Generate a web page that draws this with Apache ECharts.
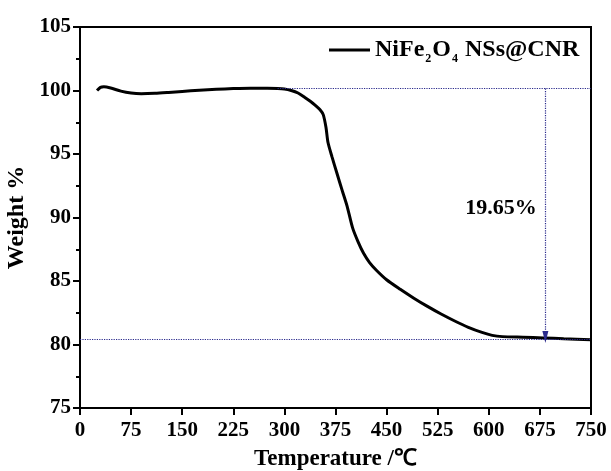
<!DOCTYPE html>
<html>
<head>
<meta charset="utf-8">
<script src="https://cdn.jsdelivr.net/npm/echarts@6/dist/echarts.min.js"></script>
<style>
  html, body { margin: 0; padding: 0; background: #fff; }
  #chart { width: 611px; height: 471px; }
</style>
</head>
<body>
<div id="chart"></div>
<script>
// TGA curve
const temperature = [25, 30, 35, 45, 60, 75, 90, 110, 130, 150,
    175, 200, 225, 250, 275, 290, 300, 310, 320, 330,
    338, 345, 352, 357, 361, 364, 370, 377, 385, 392,
    400, 408, 416, 425, 435, 450, 470, 490, 510, 530,
    550, 570, 590, 605, 620, 650, 680, 710, 750];
const weight = [100.0, 100.25, 100.3, 100.2, 99.95, 99.8, 99.75, 99.78, 99.85, 99.93,
    100.02, 100.1, 100.15, 100.18, 100.18, 100.16, 100.12, 100.0, 99.8, 99.45,
    99.15, 98.85, 98.5, 98.1, 97.1, 95.9, 94.75, 93.5, 92.1, 90.9,
    89.2, 88.1, 87.2, 86.45, 85.85, 85.1, 84.35, 83.65, 83.0, 82.4,
    81.85, 81.35, 80.95, 80.72, 80.62, 80.57, 80.52, 80.45, 80.38];
const xTicks = { min: 0, max: 750, interval: 75 };
const yTicks = { min: 75, max: 105, interval: 5 };

// annotation: plateau levels and loss arrow
const upperLevel = 100.15;
const lowerLevel = 80.4;
const upperStartT = 290;
const arrowT = 683;
const arrowEndW = 80.6;
const lossLabel = '19.65%';
const lossLabelPos = [618, 90.7];

const font = 'Liberation Serif';
const dotColor = '#2a2a8c';

let chart = echarts.init(document.getElementById('chart'));
let data = temperature.map((t, i) => [t, weight[i]]);

let option = {
    backgroundColor: '#fff',
    animation: false,
    textStyle: { fontFamily: font },
    grid: {
        left: 80, right: 20, top: 27, bottom: 63,
        containLabel: false, outerBoundsMode: 'none',
        show: true, borderColor: '#000', borderWidth: 2
    },
    legend: {
        left: 324, top: 33,
        icon: 'rect', itemWidth: 41, itemHeight: 3, itemGap: 6,
        formatter: () => '{a|NiFe}{s|2}{a|O}{s|4}{a| NSs@CNR}',
        textStyle: {
            color: '#000', fontFamily: font, fontWeight: 'bold', fontSize: 24,
            rich: {
                a: { fontFamily: font, fontWeight: 'bold', fontSize: 24, color: '#000' },
                s: { fontFamily: font, fontWeight: 'bold', fontSize: 12, color: '#000', padding: [18, 1, 0, 1] }
            }
        }
    },
    xAxis: {
        type: 'value',
        min: xTicks.min, max: xTicks.max, interval: xTicks.interval,
        name: 'Temperature /℃',
        nameLocation: 'middle', nameGap: 40,
        nameTextStyle: { color: '#000', fontFamily: font, fontWeight: 'bold', fontSize: 23 },
        axisLine: { lineStyle: { color: '#000', width: 2 } },
        axisTick: { inside: false, length: 7, lineStyle: { color: '#000', width: 2 } },
        axisLabel: { color: '#000', fontFamily: font, fontWeight: 'bold', fontSize: 21, margin: 12 },
        splitLine: { show: false }
    },
    yAxis: {
        type: 'value',
        min: yTicks.min, max: yTicks.max, interval: yTicks.interval,
        name: 'Weight %',
        nameLocation: 'middle', nameGap: 45, nameRotate: 90,
        nameTextStyle: { color: '#000', fontFamily: font, fontWeight: 'bold', fontSize: 24 },
        axisLine: { lineStyle: { color: '#000', width: 2 } },
        axisTick: { inside: false, length: 7, lineStyle: { color: '#000', width: 2 } },
        minorTick: { show: true, splitNumber: 2, length: 4, lineStyle: { color: '#000', width: 2 } },
        axisLabel: { color: '#000', fontFamily: font, fontWeight: 'bold', fontSize: 21, margin: 9 },
        splitLine: { show: false },
        minorSplitLine: { show: false }
    },
    series: [{
        name: 'NiFe2O4 NSs@CNR',
        type: 'line',
        data: data,
        smooth: 0.25,
        showSymbol: false,
        lineStyle: { color: '#000', width: 3 },
        itemStyle: { color: '#000' },
        markLine: {
            silent: true,
            symbol: ['none', 'none'],
            label: { show: false },
            lineStyle: { color: dotColor, type: 'dotted', width: 1.2 },
            data: [
                [{ coord: [upperStartT, upperLevel] }, { coord: [xTicks.max, upperLevel] }],
                [{ coord: [xTicks.min, lowerLevel] }, { coord: [xTicks.max, lowerLevel] }],
                [{ coord: [arrowT, upperLevel], symbol: 'none' },
                 { coord: [arrowT, arrowEndW], symbol: 'triangle', symbolSize: [6, 12], symbolRotate: 180 }]
            ]
        },
        markPoint: {
            silent: true,
            symbol: 'circle', symbolSize: 0,
            label: {
                show: true, color: '#000', fontFamily: font, fontWeight: 'bold', fontSize: 22,
                formatter: lossLabel
            },
            data: [{ coord: lossLabelPos }]
        }
    }]
};
chart.setOption(option);
</script>
</body>
</html>
